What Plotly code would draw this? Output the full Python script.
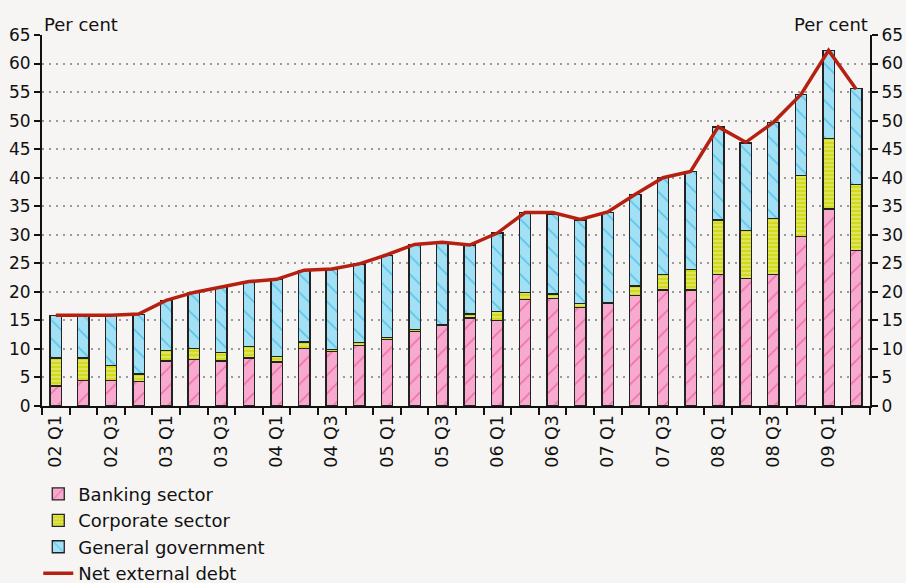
import plotly.graph_objects as go

# quarters 02 Q1 .. 09 Q2
quarters = [f"{y:02d} Q{q}" for y in range(2, 10) for q in range(1, 5)][:30]
tick_text = [lab if i % 2 == 0 else "" for i, lab in enumerate(quarters)]

banking = [3.5, 4.5, 4.5, 4.3, 7.9, 8.1, 7.9, 8.4, 7.7, 10.1,
           9.6, 10.6, 11.7, 13.1, 14.2, 15.4, 15.0, 18.6, 18.8, 17.3,
           18.0, 19.4, 20.3, 20.3, 23.0, 22.4, 23.0, 29.7, 34.5, 27.3]
corporate = [4.9, 3.9, 2.6, 1.3, 1.8, 2.0, 1.5, 2.0, 1.0, 1.1,
             0.3, 0.5, 0.3, 0.3, 0.1, 0.7, 1.5, 1.3, 0.8, 0.6,
             0.1, 1.6, 2.8, 3.6, 9.6, 8.3, 9.8, 10.7, 12.4, 11.5]
government = [7.5, 7.4, 8.7, 10.4, 8.8, 9.8, 11.4, 11.3, 13.5, 12.5,
              14.0, 13.8, 14.4, 14.9, 14.4, 12.1, 13.8, 14.0, 13.9, 14.7,
              15.8, 16.1, 16.9, 17.2, 16.3, 15.4, 16.9, 14.2, 15.4, 16.8]
net_debt = [15.9, 15.9, 15.9, 16.1, 18.5, 19.9, 20.8, 21.8, 22.2, 23.8,
            24.0, 24.9, 26.5, 28.3, 28.7, 28.2, 30.3, 33.9, 33.9, 32.7,
            34.0, 37.1, 40.0, 41.1, 48.9, 46.2, 49.7, 54.6, 62.3, 55.5]

FONT = "DejaVu Sans"
BG = "#f6f5f3"

fig = go.Figure()
fig.add_trace(go.Bar(
    x=quarters, y=banking, name="Banking sector",
    marker=dict(color="#f7aacd", line=dict(color="#222222", width=1.3),
                pattern=dict(shape="/", fgcolor="#e5368a", size=13, solidity=0.12)),
))
fig.add_trace(go.Bar(
    x=quarters, y=corporate, name="Corporate sector",
    marker=dict(color="#d2da1e", line=dict(color="#222222", width=1.3),
                pattern=dict(shape="-", fgcolor="#f0f3a0", size=4, solidity=0.45)),
))
fig.add_trace(go.Bar(
    x=quarters, y=government, name="General government",
    marker=dict(color="#a2e1f5", line=dict(color="#222222", width=1.3),
                pattern=dict(shape="\\", fgcolor="#12a6da", size=13, solidity=0.12)),
))
fig.add_trace(go.Scatter(
    x=quarters, y=net_debt, name="Net external debt", mode="lines",
    line=dict(color="#b52010", width=3.5),
))
# dummy trace so the right axis is drawn
fig.add_trace(go.Scatter(x=quarters, y=net_debt, yaxis="y2", mode="lines",
                         line=dict(width=0), showlegend=False, hoverinfo="skip"))

yaxis_common = dict(
    range=[0, 65], dtick=5, tickmode="linear",
    showline=True, linecolor="#111111", linewidth=2,
    ticks="outside", ticklen=6, tickwidth=2, tickcolor="#111111",
    tickfont=dict(family=FONT, size=17, color="#111111"),
)

fig.update_layout(
    width=906, height=583,
    margin=dict(l=42, r=36, t=35, b=177, autoexpand=False),
    paper_bgcolor=BG, plot_bgcolor=BG,
    barmode="stack", bargap=0.59,
    font=dict(family=FONT, size=18, color="#111111"),
    xaxis=dict(
        tickmode="array", tickvals=quarters, ticktext=tick_text,
        tickangle=-90, tickson="boundaries",
        showline=True, linecolor="#111111", linewidth=2,
        ticks="outside", ticklen=7, tickwidth=2, tickcolor="#111111",
        showgrid=False, tickfont=dict(family=FONT, size=17.5),
    ),
    yaxis=dict(**yaxis_common, showgrid=True, gridcolor="#9a9a9a",
               griddash="2px,5px", gridwidth=1.5, zeroline=False),
    yaxis2=dict(**yaxis_common, overlaying="y", side="right",
                showgrid=False, zeroline=False),
    legend=dict(x=-0.0045, y=-0.188, xanchor="left", yanchor="top",
                orientation="v", traceorder="normal",
                bgcolor="rgba(0,0,0,0)",
                font=dict(family=FONT, size=18), itemwidth=30,
                tracegroupgap=0),
    annotations=[
        dict(text="Per cent", xref="paper", yref="paper", x=0, y=1.0,
             xanchor="left", yanchor="bottom", showarrow=False, yshift=-2,
             font=dict(family=FONT, size=18)),
        dict(text="Per cent", xref="paper", yref="paper", x=1, y=1.0,
             xanchor="right", yanchor="bottom", showarrow=False, yshift=-2,
             font=dict(family=FONT, size=18)),
    ],
)

# drop the browser's default body margin so the figure fills the window
fig.write_html("out.html",
               config={"displayModeBar": False},
               post_script="document.body.style.margin='0';"
                           "document.body.style.background='" + BG + "';")
